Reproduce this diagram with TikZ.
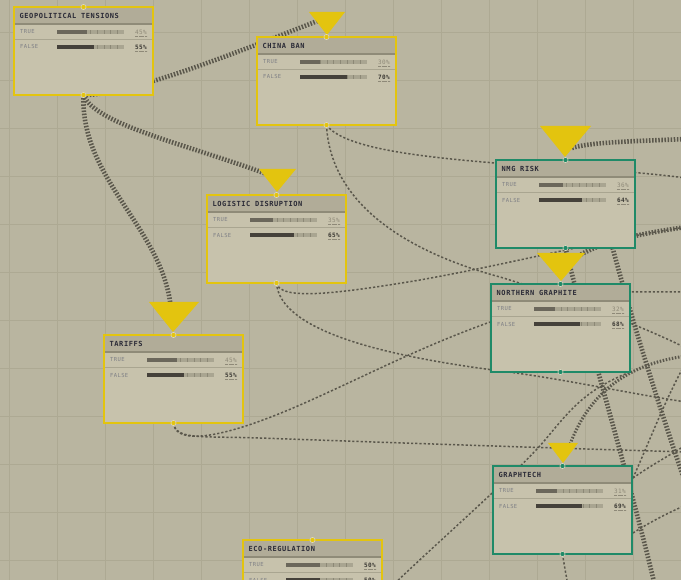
\documentclass[tikz,border=0pt]{standalone}
\usepackage{fontspec}
\newfontfamily\tfont[LetterSpace=8]{DejaVu Sans Mono}
\newfontfamily\lfont[LetterSpace=7]{DejaVu Sans Mono}
\definecolor{bgc}{HTML}{B9B5A0}
\definecolor{gridc}{HTML}{ADA993}
\definecolor{boxc}{HTML}{C7C2AC}
\definecolor{hdrc}{HTML}{B1AC98}
\definecolor{hdrline}{HTML}{8F8B78}
\definecolor{sepc}{HTML}{A9A590}
\definecolor{yel}{HTML}{E3C40F}
\definecolor{grn}{HTML}{1F8A68}
\definecolor{edgec}{HTML}{5A574B}
\definecolor{trk}{HTML}{A9A591}
\definecolor{barT}{HTML}{6B675B}
\definecolor{barF}{HTML}{45413A}
\definecolor{ttl}{HTML}{2A2A36}
\definecolor{lbl}{HTML}{7E7F85}
\definecolor{pctlo}{HTML}{8E8978}
\definecolor{pcthi}{HTML}{3A3833}
\definecolor{tickc}{HTML}{8C8876}
\definecolor{ring}{HTML}{DDD8C2}
\pgfdeclarelayer{gridlayer}
\pgfdeclarelayer{edgelayer}
\pgfsetlayers{gridlayer,edgelayer,main}
\tikzset{
  thickE/.style={edgec, line width=4.6pt, dash pattern=on 1.5pt off 1.6pt},
  medE/.style={edgec, line width=3pt, dash pattern=on 1.5pt off 1.6pt},
  thinE/.style={edgec, line width=1.5pt, dash pattern=on 2.2pt off 2pt},
  ttlfont/.style={font=\tfont\bfseries\fontsize{7}{8}\selectfont, text=ttl},
  lblfont/.style={font=\lfont\fontsize{5.5}{6}\selectfont, text=lbl},
  tri/.style={fill=yel},
  port/.style={line width=0.6pt, draw=ring}
}
\newcommand{\bnrow}[6]{%
  \node[lblfont, anchor=west, inner sep=0pt] (#1-#2l) at (6,#3) {#4};
  \fill[trk] (43,#3-1.8) rectangle (110,#3+1.8);
  \foreach \k in {1,...,9} \draw[tickc, line width=0.5pt] (43+6.7*\k,#3-1.8) -- (43+6.7*\k,#3+1.8);
  \fill[#6] (43,#3-1.8) rectangle ({43+0.67*#5},#3+1.8);
  \ifnum#5<50
    \node[font=\lfont\fontsize{6}{7}\selectfont, text=pctlo, anchor=east, inner sep=0pt] (#1-#2p) at (133,#3) {#5\%};
  \else
    \node[font=\lfont\bfseries\fontsize{6}{7}\selectfont, text=pcthi, anchor=east, inner sep=0pt] (#1-#2p) at (133,#3) {#5\%};
  \fi
  \draw[pctlo, line width=0.4pt, dash pattern=on 0.6pt off 0.6pt] (121,#3+4) -- (133,#3+4);
}
\newcommand{\bnbox}[7]{%
  \begin{scope}[shift={(#2,#3)}]
    \node[minimum width=139pt, minimum height=88pt, inner sep=0pt, outer sep=0pt, anchor=north west] (#1) at (0,0) {};
    \fill[boxc] (0,0) rectangle (139,88);
    \fill[hdrc] (0,0) rectangle (139,17);
    \draw[hdrline, line width=1.2pt] (0,17) -- (139,17);
    \draw[sepc, line width=0.8pt] (0,32) -- (139,32);
    \node[ttlfont, anchor=west, inner sep=0pt] (#1-title) at (5.5,8.8) {#4};
    \bnrow{#1}{t}{25}{TRUE}{#5}{barT}
    \bnrow{#1}{f}{40}{FALSE}{#6}{barF}
    \draw[#7, line width=1.2pt] (0,0) rectangle (139,88);
    \filldraw[port, fill=#7] (69.5,0) circle (2.6);
    \filldraw[port, fill=#7] (69.5,88) circle (2.6);
  \end{scope}}
\begin{document}
\begin{tikzpicture}[x=1pt, y=-1pt]
\useasboundingbox (0,0) rectangle (681,580);
\begin{pgfonlayer}{gridlayer}
  \fill[bgc] (0,0) rectangle (681,580);
  \foreach \x in {9,57,...,681} \draw[gridc, line width=0.6pt] (\x,0) -- (\x,580);
  \foreach \y in {32,80,...,580} \draw[gridc, line width=0.6pt] (0,\y) -- (681,\y);
\end{pgfonlayer}
% triangles
\fill[tri] (309,12) -- (345,12) -- (327,35) -- cycle;
\fill[tri] (540,126) -- (591,126) -- (565,157) -- cycle;
\fill[tri] (259,169) -- (296,169) -- (277,192) -- cycle;
\fill[tri] (537,253) -- (585,253) -- (561,281) -- cycle;
\fill[tri] (149,302) -- (199,302) -- (173,332) -- cycle;
\fill[tri] (548,443) -- (578,443) -- (563,463) -- cycle;
\coordinate (chinaT) at (320,20);
\coordinate (logiT) at (272,176);
\coordinate (tarT) at (171,310);
\coordinate (nmgT) at (572,148);
\coordinate (ngT) at (568,263);
\coordinate (graphT) at (568,450);
% boxes
\bnbox{geo}{14}{7}{GEOPOLITICAL TENSIONS}{45}{55}{yel}
\bnbox{china}{257}{37}{CHINA BAN}{30}{70}{yel}
\bnbox{nmg}{496}{160}{NMG RISK}{36}{64}{grn}
\bnbox{logi}{207}{195}{LOGISTIC DISRUPTION}{35}{65}{yel}
\bnbox{ng}{491}{284}{NORTHERN GRAPHITE}{32}{68}{grn}
\bnbox{tar}{104}{335}{TARIFFS}{45}{55}{yel}
\bnbox{graph}{493}{466}{GRAPHTECH}{31}{69}{grn}
\bnbox{eco}{243}{540}{ECO-REGULATION}{50}{50}{yel}
% free ends
\coordinate (r1) at (686,139);
\coordinate (r2) at (686,178);
\coordinate (r3) at (686,227);
\coordinate (r4) at (686,292);
\coordinate (r5) at (686,348);
\coordinate (r6) at (686,356);
\coordinate (r7) at (686,402);
\coordinate (r8) at (686,452);
\coordinate (r9) at (686,485);
\coordinate (r10) at (686,505);
\coordinate (r11) at (686,445);
\coordinate (r12) at (686,362);
\coordinate (b1) at (655,586);
\coordinate (b2) at (392,586);
\coordinate (b3) at (568,586);
\coordinate (nmgIn) at (600,200);
\coordinate (ngIn) at (560,300);
\coordinate (gr1) at (633,533);
\coordinate (gr2) at (633,478);
\begin{pgfonlayer}{edgelayer}
  % thick
  \draw[thickE] (geo.south) .. controls (130,95) and (230,55) .. (chinaT);
  \draw[thickE] (geo.south) .. controls (95,125) and (190,145) .. (logiT);
  \draw[thickE] (geo.south) .. controls (80,180) and (165,230) .. (tarT);
  \draw[thickE] (nmgT) .. controls (590,142) and (640,141) .. (r1);
  \draw[thickE] (nmgIn) .. controls (620,280) and (650,380) .. (r9);
  \draw[thickE] (nmg.south) .. controls (585,330) and (630,480) .. (b1);
  \draw[thickE] (ngT) .. controls (590,245) and (630,235) .. (r3);
  \draw[medE] (graphT) .. controls (585,400) and (620,365) .. (r6);
  % thin
  \draw[thinE] (china.south) .. controls (345,150) and (430,158) .. (520,165) .. controls (580,168) and (640,172) .. (r2);
  \draw[thinE] (china.south) .. controls (330,200) and (400,250) .. (500,277) .. controls (560,295) and (640,325) .. (r5);
  \draw[thinE] (logi.south) .. controls (280,300) and (330,295) .. (420,280) .. controls (520,262) and (600,240) .. (r3);
  \draw[thinE] (logi.south) .. controls (280,330) and (380,355) .. (493,370) .. controls (560,378) and (620,392) .. (r7);
  \draw[thinE] (tar.south) .. controls (175,445) and (220,440) .. (300,405) .. controls (380,370) and (450,330) .. (ngIn) .. controls (600,290) and (640,292) .. (r4);
  \draw[thinE] (tar.south) .. controls (176,440) and (200,436) .. (260,438) .. controls (400,443) and (550,448) .. (r8);
  \draw[thinE] (b2) .. controls (440,540) and (520,470) .. (545,440) .. controls (570,410) and (585,390) .. (ng.south east);
  \draw[thinE] (graph.south) .. controls (565,570) and (567,580) .. (b3);
  \draw[thinE] (gr1) .. controls (650,522) and (670,512) .. (r10);
  \draw[thinE] (gr2) .. controls (650,466) and (670,455) .. (r11);
  \draw[thinE] (gr2) .. controls (650,440) and (665,400) .. (r12);
\end{pgfonlayer}
\end{tikzpicture}
\end{document}
